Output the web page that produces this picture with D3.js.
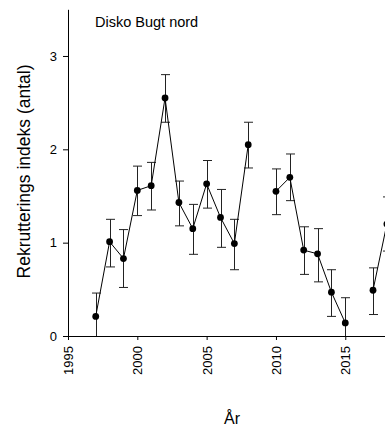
<!DOCTYPE html>
<html>
<head>
<meta charset="utf-8">
<script src="https://cdn.jsdelivr.net/npm/d3@7"></script>
<style>
  html, body { margin: 0; padding: 0; background: #fff; }
  svg { display: block; font-family: "Liberation Sans", Arial, sans-serif; }
</style>
</head>
<body>
<svg id="chart" width="385" height="429"></svg>
<script>
// Data
const years  = [1997, 1998, 1999, 2000, 2001, 2002, 2003, 2004, 2005, 2006, 2007, 2008, 2009, 2010, 2011, 2012, 2013, 2014, 2015, 2016, 2017, 2018];
const values = [0.21, 1.01, 0.83, 1.56, 1.61, 2.55, 1.43, 1.15, 1.63, 1.27, 0.99, 2.05, null, 1.55, 1.70, 0.92, 0.88, 0.47, 0.14, null, 0.49, 1.20];
const upper  = [0.46, 1.25, 1.14, 1.82, 1.86, 2.80, 1.66, 1.41, 1.88, 1.57, 1.25, 2.29, null, 1.79, 1.95, 1.17, 1.15, 0.71, 0.41, null, 0.73, 1.49];
const lower  = [0.00, 0.74, 0.52, 1.29, 1.35, 2.29, 1.18, 0.875, 1.37, 0.95, 0.71, 1.80, null, 1.30, 1.45, 0.66, 0.58, 0.21, 0.00, null, 0.23, 0.91];
const xTicks = [1995, 2000, 2005, 2010, 2015];
const yTicks = [0, 1, 2, 3];
const title = "Disko Bugt nord";
const xLabel = "År";
const yLabel = "Rekrutterings indeks (antal)";

const data = years.map((y, i) => ({ year: y, v: values[i], hi: upper[i], lo: lower[i] }));

const svg = d3.select("#chart");
const x = d3.scaleLinear().domain([1995, 2020]).range([68, 414.6]);
const y = d3.scaleLinear().domain([0, 3.5]).range([336, 9.3]);

// axes
const xAxis = svg.append("g").attr("transform", "translate(0,336)")
  .call(d3.axisBottom(x).tickValues(xTicks).tickFormat(d3.format("d")).tickSize(4).tickSizeOuter(0));
xAxis.selectAll("text")
  .attr("transform", "rotate(-90)")
  .attr("text-anchor", "end")
  .attr("x", -10)
  .attr("y", 0)
  .attr("dy", "0.35em");
const yAxis = svg.append("g").attr("transform", "translate(68,0)")
  .call(d3.axisLeft(y).tickValues(yTicks).tickFormat(d3.format("d")).tickSize(5).tickPadding(6).tickSizeOuter(0));

[xAxis, yAxis].forEach(g => {
  g.selectAll("text").attr("font-size", 13).attr("fill", "#000").attr("font-family", "'Liberation Sans', Arial, sans-serif");
  g.selectAll("line").attr("stroke", "#000");
  g.select(".domain").attr("stroke", "#000");
});

// error bars
const eb = svg.append("g").attr("stroke", "#222").attr("stroke-width", 1).attr("fill", "none");
const valid = data.filter(d => d.v !== null);
eb.selectAll("path").data(valid).enter().append("path")
  .attr("d", d => {
    const cx = Math.round(x(d.year)) + 0.5, t = y(d.hi), b = y(d.lo), w = 4.5;
    return `M${cx - w},${t}H${cx + w}M${cx},${t}V${b}` + (d.lo > 0 ? `M${cx - w},${b}H${cx + w}` : "");
  });

// line
const line = d3.line().defined(d => d.v !== null).x(d => x(d.year)).y(d => y(d.v));
svg.append("path").datum(data).attr("d", line)
  .attr("fill", "none").attr("stroke", "#000").attr("stroke-width", 1);

// points
svg.append("g").selectAll("circle").data(valid).enter().append("circle")
  .attr("cx", d => x(d.year)).attr("cy", d => y(d.v)).attr("r", 3.4).attr("fill", "#000");

// texts
svg.append("text").attr("x", 95).attr("y", 27).attr("font-size", 14.5).attr("fill", "#000").text(title);
svg.append("text").attr("x", 232).attr("y", 424).attr("text-anchor", "middle").attr("font-size", 16).attr("fill", "#000").text(xLabel);
svg.append("text").attr("transform", "translate(30,171.5) rotate(-90)").attr("text-anchor", "middle")
  .attr("font-size", 17.5).attr("fill", "#000").text(yLabel);
</script>
</body>
</html>
